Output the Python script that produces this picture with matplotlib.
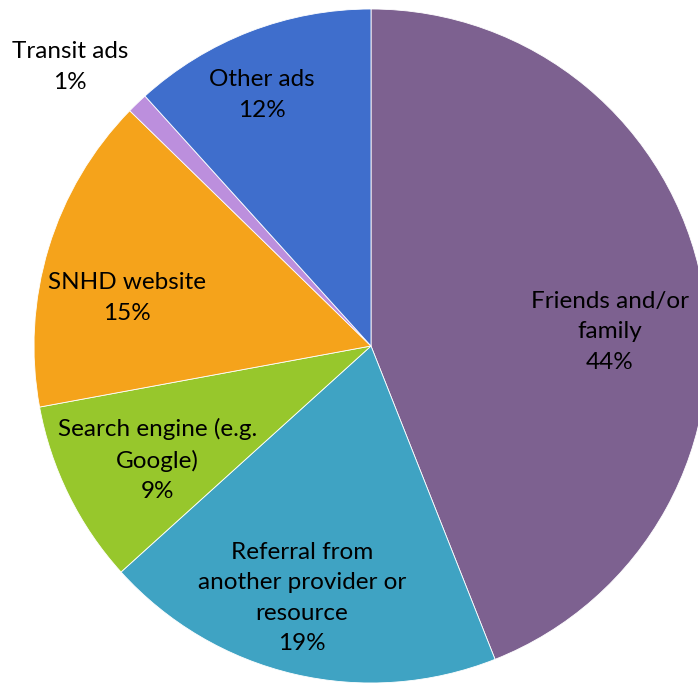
import matplotlib
matplotlib.use("Agg")
import matplotlib.pyplot as plt

categories = ["Friends and/or\nfamily", "Referral from\nanother provider or\nresource",
              "Search engine (e.g.\nGoogle)", "SNHD website", "Transit ads", "Other ads"]
values = [44.0, 19.3, 8.8, 15.2, 1.0, 11.7]
colors = ["#7D6190", "#3FA3C3", "#97C72C", "#F5A31B", "#BC8FDD", "#3F6ECC"]

# label centres in axes units (pie radius = 1)
label_pos = [(0.709, 0.042), (-0.205, -0.748), (-0.634, -0.338), (-0.724, 0.142),
             (-0.893, 0.828), (-0.323, 0.745)]

W, H = 698, 684
cx, cy, R = 371, 346, 337
fig = plt.figure(figsize=(W / 100, H / 100), dpi=100)
ax = fig.add_axes([0, 0, 1, 1])
ax.pie(values, colors=colors, startangle=90, counterclock=False, radius=1,
       wedgeprops=dict(edgecolor="white", linewidth=0.6))
ax.set_xlim(-cx / R, (W - cx) / R)
ax.set_ylim((cy - H) / R, cy / R)
ax.set_aspect("equal")
ax.axis("off")

for lab, v, (x, y) in zip(categories, values, label_pos):
    ax.text(x, y, f"{lab}\n{round(v)}%", ha="center", va="center", fontsize=17.5,
            family="Lato", linespacing=1.55, color="black")

fig.savefig("out.png", dpi=100)
